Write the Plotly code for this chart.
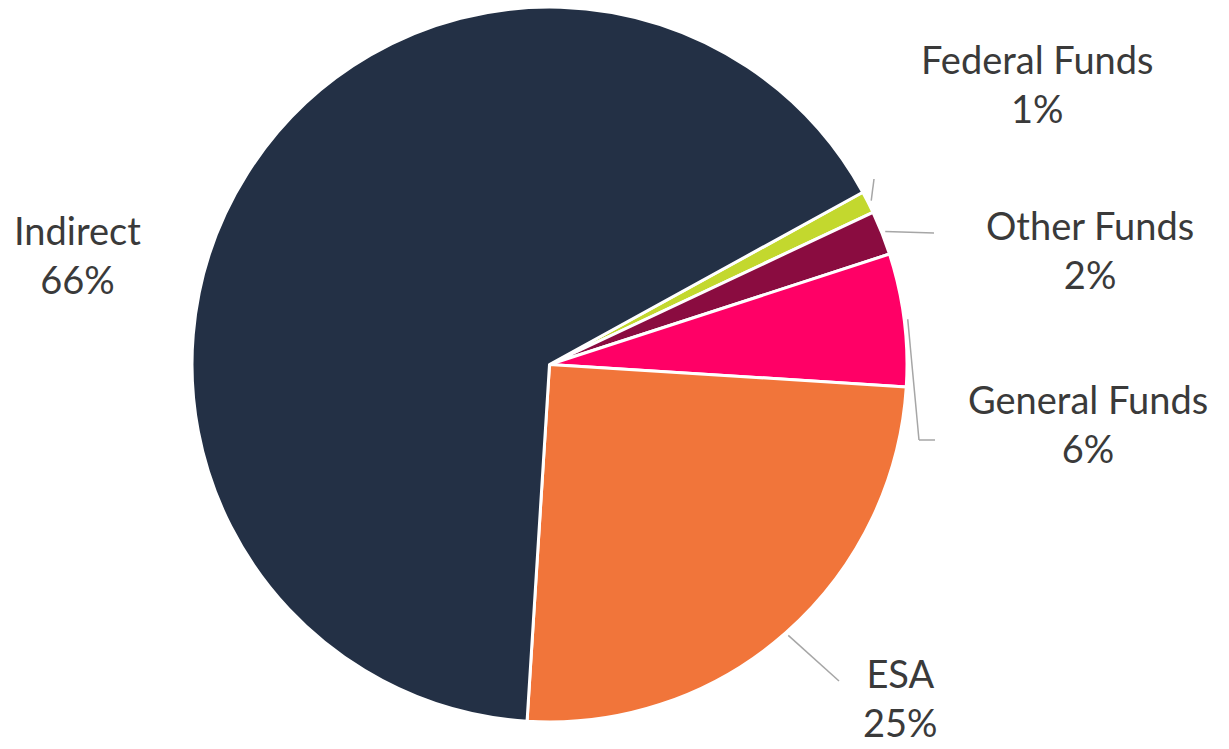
import math
import plotly.graph_objects as go

# Funding sources and their share of the total (percent)
labels = ["Federal Funds", "Other Funds", "General Funds", "ESA", "Indirect"]
values = [1, 2, 6, 25, 66]
colors = ["#C3D82E", "#8A0C40", "#FF0066", "#F1753A", "#233045"]

W, H = 1229, 749
CX, CY, R = 549.5, 364.5, 357.5          # pie centre and radius in pixels
START_DEG = 28.8                           # angle (math convention) where the first slice starts

# label anchors (pixel centre of the two-line label) and leader line bends
label_pos = {
    "Federal Funds": (1037, 83),
    "Other Funds": (1090, 249),
    "General Funds": (1088, 423),
    "ESA": (900, 697),
    "Indirect": (77, 255),
}
leader_path = {
    "Federal Funds": [(874, 179)],
    "Other Funds": [(934, 233)],
    "General Funds": [(919, 440), (935, 440)],
    "ESA": [(839, 681)],
}


def px(x):
    return x / W


def py(y):
    return 1 - y / H


fig = go.Figure(
    go.Pie(
        labels=labels,
        values=values,
        sort=False,
        direction="clockwise",
        rotation=90 - START_DEG,
        marker=dict(colors=colors, line=dict(color="white", width=3)),
        textinfo="none",
        hoverinfo="label+percent",
        showlegend=False,
        domain=dict(x=[px(CX - R), px(CX + R)], y=[py(CY + R), py(CY - R)]),
    )
)

total = sum(values)
annotations = []
shapes = []
angle = START_DEG
for name, v in zip(labels, values):
    span = 360 * v / total
    mid = math.radians(angle - span / 2)
    angle -= span
    pct = round(100 * v / total)
    lx, ly = label_pos[name]
    annotations.append(
        dict(
            x=px(lx), y=py(ly), xref="paper", yref="paper",
            text=f"{name}<br>{pct}%", showarrow=False,
            font=dict(family="Lato, 'Open Sans', sans-serif", size=38, color="#3A3A3A"),
            align="center", xanchor="center", yanchor="middle",
        )
    )
    if name in leader_path:
        pts = [(CX + 1.01 * R * math.cos(mid), CY - 1.01 * R * math.sin(mid))] + leader_path[name]
        for (x0, y0), (x1, y1) in zip(pts[:-1], pts[1:]):
            shapes.append(
                dict(type="line", xref="paper", yref="paper",
                     x0=px(x0), y0=py(y0), x1=px(x1), y1=py(y1),
                     line=dict(color="#A6A6A6", width=1.5))
            )

fig.update_layout(
    width=W, height=H,
    margin=dict(l=0, r=0, t=0, b=0),
    paper_bgcolor="white",
    plot_bgcolor="white",
    annotations=annotations,
    shapes=shapes,
)

fig.write_html("out.html")
